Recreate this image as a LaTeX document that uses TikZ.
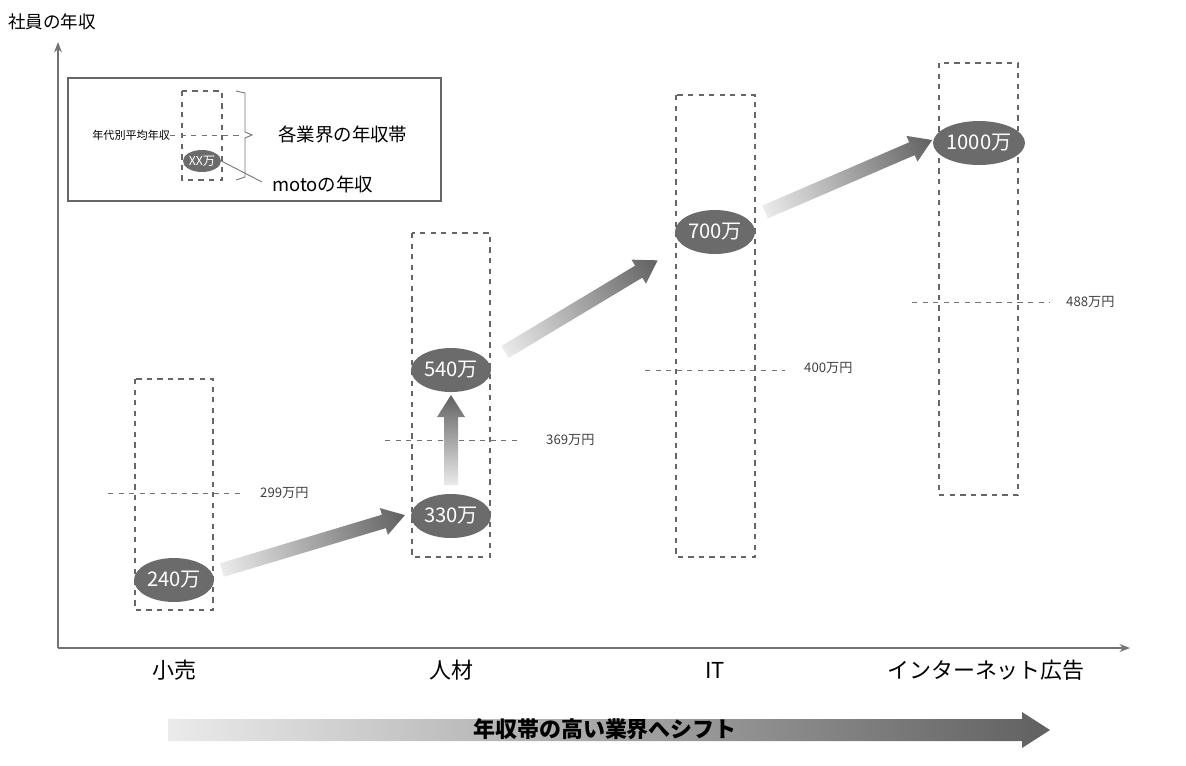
\documentclass[tikz,border=0pt]{standalone}
\usepackage{fontspec}
\setmainfont{Noto Sans CJK JP}
\usetikzlibrary{shapes.geometric,arrows.meta}
\tikzset{
  band/.style={draw=black!60, dashed, line width=0.9pt},
  avg/.style={draw=black!55, dashed, line width=0.5pt},
  income/.style={ellipse, fill=black!58, text=white, minimum width=1.6cm, minimum height=0.88cm, inner sep=0pt, font=\fontsize{11.5}{12}\selectfont},
  avglabel/.style={anchor=west, text=black!75, font=\fontsize{7.5}{8}\selectfont},
  cat/.style={font=\fontsize{12.5}{13}\selectfont},
}
% fat shaded arrow: start coordinate, angle, length, shaft half-width, head half-width, head length
\newcommand{\fatarrow}[6]{%
  \begin{scope}[transform canvas={shift={(#1)},rotate=#2}]
    \path[left color=black!8, right color=black!62]
      (0,-#4) -- (#3-#6,-#4) -- (#3-#6,-#5) -- (#3,0) -- (#3-#6,#5) -- (#3-#6,#4) -- (0,#4) -- cycle;
  \end{scope}}
\begin{document}
\begin{tikzpicture}[x=0.02cm, y=-0.02cm]
\useasboundingbox (0,0) rectangle (1186,765);
% axes
\coordinate (O) at (58,648);
\coordinate (ytop) at (58,42);
\coordinate (xend) at (1130,648);
\draw[black!55, line width=0.6pt, -{Stealth[length=6pt]}] (O) -- (ytop);
\draw[black!55, line width=0.6pt, -{Stealth[length=6pt]}] (O) -- (xend);
\node[anchor=west, font=\fontsize{10}{11}\selectfont] (ylabel) at (2,22) {社員の年収};
% legend
\draw[black!60, line width=1pt] (68,78) rectangle (441,201);
\draw[band, line width=0.7pt] (182,91) rectangle (222,180);
\draw[avg] (170,135) -- (240,135);
\node[anchor=east, font=\fontsize{6.3}{7}\selectfont, inner sep=1pt] (lavg) at (172,135) {年代別平均年収};
\node[ellipse, fill=black!58, text=white, minimum width=0.76cm, minimum height=0.44cm, inner sep=0pt, font=\fontsize{7}{7}\selectfont] (lxx) at (202,161) {XX万};
\draw[black!55, line width=0.5pt] (236,91) -- (245,93) -- (245,132) -- (252,135) -- (245,138) -- (245,177) -- (236,180);
\node[anchor=west, font=\fontsize{10.5}{11}\selectfont] (lband) at (272,134) {各業界の年収帯};
\node[anchor=west, font=\fontsize{10.5}{11}\selectfont] (lmoto) at (266,184) {motoの年収};
\draw[black!55, line width=0.5pt] (lxx.east) -- (262,182);
% industry bands
\draw[band] (135,379) rectangle (213,610);
\draw[band] (412,233) rectangle (490,557);
\draw[band] (676,95) rectangle (755,557);
\draw[band] (939,63) rectangle (1018,495);
% averages
\draw[avg] (108,493) -- (245,493);
\node[avglabel] (a1) at (254,493) {299万円};
\draw[avg] (385,440) -- (520,440);
\node[avglabel] (a2) at (540,440) {369万円};
\draw[avg] (645,370) -- (785,370);
\node[avglabel] (a3) at (798,368) {400万円};
\draw[avg] (912,302) -- (1050,302);
\node[avglabel] (a4) at (1060,302) {488万円};
% arrows
\coordinate (s1) at (222,570);
\coordinate (s2) at (451,485);
\coordinate (s3) at (505,352);
\coordinate (s4) at (765,212);
\fatarrow{s1}{16.7}{191}{7}{14}{22}
\fatarrow{s2}{90}{90}{7}{14}{22}
\fatarrow{s3}{31}{178}{7}{14}{22}
\fatarrow{s4}{23.3}{182}{7}{14}{22}
% incomes
\node[income] (i1) at (174,580) {240万};
\node[income] (i2) at (451,516) {330万};
\node[income] (i3) at (451,370) {540万};
\node[income] (i4) at (715,232) {700万};
\node[income] (i5) at (979,143) {1000万};
% categories
\node[cat] (c1) at (174,670) {小売};
\node[cat] (c2) at (451,670) {人材};
\node[cat] (c3) at (715,670) {IT};
\node[cat] (c4) at (986,670) {インターネット広告};
% shift arrow
\coordinate (sb) at (168,730);
\fatarrow{sb}{0}{882}{11}{18}{28}
\node[font=\bfseries\fontsize{12.5}{13}\selectfont] (shift) at (605,729) {年収帯の高い業界へシフト};
\end{tikzpicture}
\end{document}
